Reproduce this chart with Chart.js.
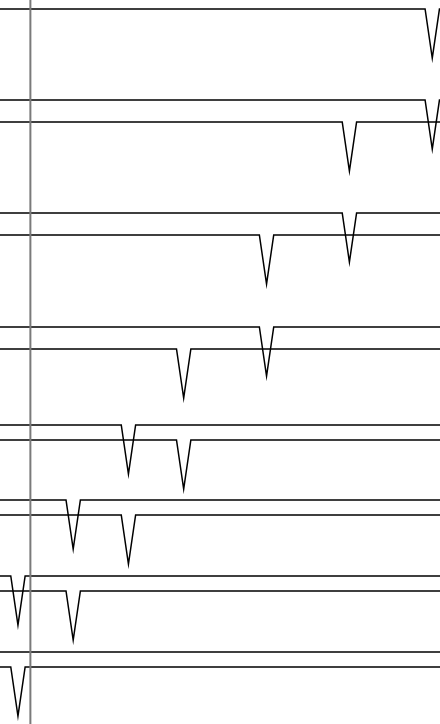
<!DOCTYPE html>
<html>
<head>
<meta charset="utf-8">
<title>Dip traces</title>
<script src="https://cdn.jsdelivr.net/npm/chart.js@4"></script>
<style>
    html, body { margin: 0; padding: 0; background: #ffffff; }
    #wrap { width: 440px; height: 724px; position: relative; }
</style>
</head>
<body>
<div id="wrap"><canvas id="traceChart"></canvas></div>
<script>
// one entry per trace, top to bottom
const traceLevels = [9, 100, 122, 213, 235, 327, 349, 425, 440, 500, 515, 576, 591, 652, 667];
const dipTimes = [15, 15, 12, 12, 9, 9, 6, 4, 6, 2, 4, 0, 2, -2, 0];
const dipDepth = 49;
const dipHalfWidth = 0.26;
const markerTime = 0.45;

const xRange = [-0.65, 15.28];
const yRange = [0, 724];

document.addEventListener('DOMContentLoaded', function() {
    const datasets = [];

    // gray marker line, first so it sits on top
    datasets.push({
        label: 'marker',
        data: [
            { x: markerTime, y: yRange[0] },
            { x: markerTime, y: yRange[1] }
        ],
        borderColor: '#7a7a7a',
        borderWidth: 2
    });

    traceLevels.forEach(function(level, i) {
        const t = dipTimes[i];
        datasets.push({
            label: 'trace ' + (i + 1),
            data: [
                { x: xRange[0] - 1, y: level },
                { x: t - dipHalfWidth, y: level },
                { x: t, y: level + dipDepth },
                { x: t + dipHalfWidth, y: level },
                { x: xRange[1] + 1, y: level }
            ],
            borderColor: '#000000',
            borderWidth: 1.5
        });
    });

    const ctx = document.getElementById('traceChart').getContext('2d');
    new Chart(ctx, {
        type: 'line',
        data: { datasets: datasets },
        options: {
            responsive: true,
            maintainAspectRatio: false,
            animation: false,
            layout: { padding: 0 },
            elements: {
                point: { radius: 0 },
                line: { tension: 0, borderJoinStyle: 'miter' }
            },
            scales: {
                x: {
                    type: 'linear',
                    display: false,
                    min: xRange[0],
                    max: xRange[1]
                },
                y: {
                    type: 'linear',
                    display: false,
                    reverse: true,
                    min: yRange[0],
                    max: yRange[1]
                }
            },
            plugins: {
                legend: { display: false },
                tooltip: { enabled: false }
            }
        }
    });
});
</script>
</body>
</html>
